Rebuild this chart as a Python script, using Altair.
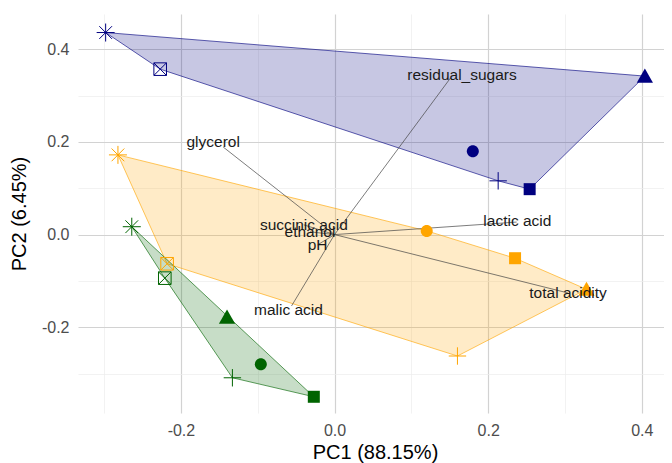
import altair as alt
import pandas as pd

# ---------------- data ----------------
groups = ["Group 1", "Group 2", "Group 3"]
group_colors = ["#000080", "#FFA500", "#006400"]
shapes = ["asterisk", "square_cross", "plus", "circle", "triangle", "square"]
open_shapes = ["asterisk", "square_cross", "plus"]

# scores (same order as `shapes`)
g1_pc1 = [-0.298, -0.227, 0.213, 0.180, 0.404, 0.254]
g1_pc2 = [0.436, 0.357, 0.116, 0.180, 0.342, 0.098]
g2_pc1 = [-0.282, -0.218, 0.160, 0.120, 0.328, 0.235]
g2_pc2 = [0.172, -0.063, -0.262, 0.008, -0.118, -0.051]
g3_pc1 = [-0.264, -0.221, -0.133, -0.096, -0.140, -0.027]
g3_pc2 = [0.017, -0.094, -0.309, -0.280, -0.178, -0.350]

# loadings
variables = ["glycerol", "residual_sugars", "lactic acid", "total acidity",
             "malic acid", "succinic acid", "ethanol", "pH"]
load_pc1 = [-0.145, 0.151, 0.237, 0.304, -0.056, -0.040, -0.032, -0.022]
load_pc2 = [0.189, 0.338, 0.027, -0.126, -0.154, 0.021, 0.006, -0.022]
label_pc1 = [-0.158, 0.166, 0.238, 0.304, -0.060, -0.040, -0.032, -0.022]
label_pc2 = [0.200, 0.344, 0.029, -0.126, -0.163, 0.021, 0.006, -0.022]
origin = [0.0, 0.0]

x_domain = [-0.334, 0.4289]
y_domain = [-0.385, 0.476]
grid_values = [-0.3, -0.2, -0.1, 0.0, 0.1, 0.2, 0.3, 0.4]

# symbol paths (unit = sqrt(size)/2 px)
shape_paths = [
    "M-1.5,0L1.5,0M0,-1.5L0,1.5M-1.06,-1.06L1.06,1.06M-1.06,1.06L1.06,-1.06",
    "M-1.05,-1.05L1.05,-1.05L1.05,1.05L-1.05,1.05ZM-1.05,-1.05L1.05,1.05M-1.05,1.05L1.05,-1.05",
    "M-1.45,0L1.45,0M0,-1.45L0,1.45",
    "M-1,0A1,1,0,1,1,1,0A1,1,0,1,1,-1,0Z",
    "M0,-1.25L1.35,1.1L-1.35,1.1Z",
    "M-1,-1L1,-1L1,1L-1,1Z",
]

# ---------------- tables ----------------
rows = []
for g, xs, ys in zip(groups, [g1_pc1, g2_pc1, g3_pc1], [g1_pc2, g2_pc2, g3_pc2]):
    for s, x, y in zip(shapes, xs, ys):
        rows.append({"grp": g, "shape": s, "PC1": x, "PC2": y})
pts = pd.DataFrame(rows)


def hull(points):
    p = sorted(points)
    def cross(o, a, b):
        return (a[0] - o[0]) * (b[1] - o[1]) - (a[1] - o[1]) * (b[0] - o[0])
    lower, upper = [], []
    for q in p:
        while len(lower) >= 2 and cross(lower[-2], lower[-1], q) <= 0:
            lower.pop()
        lower.append(q)
    for q in reversed(p):
        while len(upper) >= 2 and cross(upper[-2], upper[-1], q) <= 0:
            upper.pop()
        upper.append(q)
    return lower[:-1] + upper[:-1]


hrows = []
for g in groups:
    sub = pts[pts.grp == g]
    h = hull(list(zip(sub.PC1, sub.PC2)))
    for i, (x, y) in enumerate(h):
        hrows.append({"grp": g, "PC1": x, "PC2": y, "ord": i})
hull_df = pd.DataFrame(hrows)

load_df = pd.DataFrame({
    "var": variables, "PC1": load_pc1, "PC2": load_pc2,
    "lx": label_pc1, "ly": label_pc2,
    "ox": [origin[0]] * len(variables), "oy": [origin[1]] * len(variables),
})

# ---------------- encodings ----------------
FONT = "Liberation Sans"
W, H = 586, 399

major_test = "abs(round(datum.value*10)) % 2 == 0"
xscale = alt.Scale(domain=x_domain, nice=False, zero=False)
yscale = alt.Scale(domain=y_domain, nice=False, zero=False)
color_scale = alt.Scale(domain=groups, range=group_colors)
shape_scale = alt.Scale(domain=shapes, range=shape_paths)

label_expr = f"{major_test} ? replace(format(datum.value, '.1f'), '\u2212', '-') : ''"

x_axis = alt.Axis(
    values=grid_values, labelExpr=label_expr, ticks=False, domain=False,
    grid=True,
    gridColor={"condition": {"test": major_test, "value": "#D2D2D2"}, "value": "#ECECEC"},
    gridWidth={"condition": {"test": major_test, "value": 1.2}, "value": 0.7},
    labelFont=FONT, labelFontSize=16, labelColor="#4D4D4D", labelPadding=9,
    title="PC1 (88.15%)", titleFont=FONT, titleFontSize=20, titleFontWeight="normal",
    titleColor="#000000", titleX=(78 + 672) / 2 - 78, titleY=39, titleBaseline="middle",
)
y_axis = alt.Axis(
    values=grid_values, labelExpr=label_expr, ticks=False, domain=False,
    grid=True,
    gridColor={"condition": {"test": major_test, "value": "#D2D2D2"}, "value": "#ECECEC"},
    gridWidth={"condition": {"test": major_test, "value": 1.2}, "value": 0.7},
    labelFont=FONT, labelFontSize=16, labelColor="#4D4D4D", labelPadding=9,
    title="PC2 (6.45%)", titleFont=FONT, titleFontSize=20, titleFontWeight="normal",
    titleColor="#000000", titleX=-59, titleY=H / 2, titleBaseline="middle", titleAngle=270,
)

hulls = alt.Chart(hull_df).mark_line(
    interpolate="linear-closed", fillOpacity=0.22, strokeOpacity=0.7, strokeWidth=0.9
).encode(
    x=alt.X("PC1:Q", scale=xscale, axis=x_axis),
    y=alt.Y("PC2:Q", scale=yscale, axis=y_axis),
    order="ord:Q",
    fill=alt.Fill("grp:N", scale=color_scale, legend=None),
    stroke=alt.Stroke("grp:N", scale=color_scale, legend=None),
    detail="grp:N",
)

lines = alt.Chart(load_df).mark_rule(color="#444444", strokeWidth=0.7).encode(
    x="ox:Q", y="oy:Q", x2="PC1:Q", y2="PC2:Q"
)

filled_pts = alt.Chart(pts).transform_filter(
    alt.FieldOneOfPredicate(field="shape", oneOf=["circle", "triangle", "square"])
).mark_point(filled=True, size=144, strokeWidth=0, opacity=1).encode(
    x="PC1:Q", y="PC2:Q",
    shape=alt.Shape("shape:N", scale=shape_scale, legend=None),
    color=alt.Color("grp:N", scale=color_scale, legend=None),
)

open_pts = alt.Chart(pts).transform_filter(
    alt.FieldOneOfPredicate(field="shape", oneOf=open_shapes)
).mark_point(filled=False, size=144, strokeWidth=1, opacity=1).encode(
    x="PC1:Q", y="PC2:Q",
    shape=alt.Shape("shape:N", scale=shape_scale, legend=None),
    color=alt.Color("grp:N", scale=color_scale, legend=None),
)

labels = alt.Chart(load_df).mark_text(
    font=FONT, fontSize=15.5, color="#1A1A1A", align="center", baseline="middle"
).encode(x="lx:Q", y="ly:Q", text="var:N")

chart = alt.layer(hulls, lines, filled_pts, open_pts, labels).properties(
    width=W, height=H,
    autosize=alt.AutoSizeParams(type="none"),
    padding={"left": 70, "top": 6, "right": 0, "bottom": 50},
    background="white",
).configure_view(stroke=None)

chart.save("out.html", embed_options={"renderer": "svg", "actions": False})
